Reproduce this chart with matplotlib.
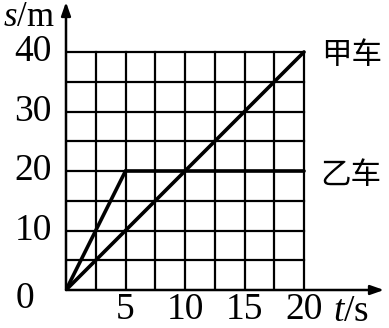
import matplotlib.pyplot as plt

plt.rcParams['mathtext.fontset'] = 'custom'
plt.rcParams['mathtext.it'] = 'Liberation Serif:italic'
plt.rcParams['mathtext.rm'] = 'Liberation Serif'

# data
t_jia = [0, 20]
s_jia = [0, 40]
t_yi = [0, 5, 20]
s_yi = [0, 20, 20]
x_ticks = [5, 10, 15, 20]
y_ticks = [10, 20, 30, 40]
grid_x = [2.5 * i for i in range(1, 9)]
grid_y = [5 * i for i in range(1, 9)]

W, H = 389, 328
fig = plt.figure(figsize=(W / 100, H / 100), dpi=100)
x0, y0 = 66, 290       # origin in pixels
x20, y40 = 304, 52
ax_right, ax_top = 384, 2
ax = fig.add_axes([x0 / W, (H - y0) / H, (ax_right - x0) / W, (y0 - ax_top) / H])
xmax = (ax_right - x0) / (x20 - x0) * 20
ymax = (y0 - ax_top) / (y0 - y40) * 40
ax.set_xlim(0, xmax)
ax.set_ylim(0, ymax)
ax.axis('off')
px_x = 20 / (x20 - x0)   # data units per pixel
px_y = 40 / (y0 - y40)

# grid
for gx in grid_x:
    ax.plot([gx, gx], [0, 40], color='black', lw=1.6, solid_capstyle='projecting')
for gy in grid_y:
    ax.plot([0, 20], [gy, gy], color='black', lw=1.6, solid_capstyle='projecting')

# axes with arrows
arrow = dict(arrowstyle='-|>,head_length=0.8,head_width=0.28', color='black', lw=1.8,
             shrinkA=0, shrinkB=0)
ax.annotate('', xy=(xmax, 0), xytext=(0, 0), arrowprops=arrow, annotation_clip=False)
ax.annotate('', xy=(0, ymax), xytext=(0, 0), arrowprops=arrow, annotation_clip=False)

# data lines
ax.plot(t_jia, s_jia, color='black', lw=2.6, solid_capstyle='round')
ax.plot(t_yi, s_yi, color='black', lw=2.6, solid_capstyle='round', solid_joinstyle='miter')

serif = 'Liberation Serif'
fs = 27
for v in x_ticks:
    ax.text(v, -20 * px_y, str(v), ha='center', va='center', fontsize=fs, family=serif)
for v in y_ticks:
    ax.text(-14 * px_x, v, str(v), ha='right', va='center', fontsize=fs, family=serif)
ax.text(-41 * px_x, -9 * px_y, '0', ha='center', va='center', fontsize=fs, family=serif)

ax.text(-63 * px_x, (y0 - 17) * px_y, r'$s$/m', ha='left', va='center', fontsize=25, family=serif)
ax.text(267 * px_x, -22 * px_y, r'$t$/s', ha='left', va='center', fontsize=fs, family=serif)

ax.text(21.4, 40 - 4 * px_y, '甲车', ha='left', va='center', fontsize=22, family=['Noto Sans CJK SC'])
ax.text(21.4, 20 - 4 * px_y, '乙车', ha='left', va='center', fontsize=22, family=['Noto Sans CJK SC'])

fig.savefig('out.png', dpi=100)
